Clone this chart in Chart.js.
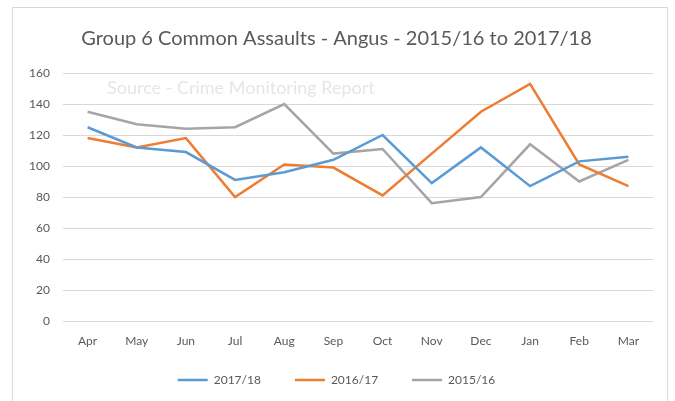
<!DOCTYPE html>
<html>
<head>
<meta charset="utf-8">
<script src="https://cdn.jsdelivr.net/npm/chart.js@4"></script>
<style>
  html, body { margin: 0; padding: 0; background: #fff; }
  #wrap { width: 675px; height: 401px; }
</style>
</head>
<body>
<div id="wrap"><canvas id="chart-assaults"></canvas></div>
<script>
const months = ['Apr', 'May', 'Jun', 'Jul', 'Aug', 'Sep', 'Oct', 'Nov', 'Dec', 'Jan', 'Feb', 'Mar'];
const year1718 = [125, 112, 109, 91, 96, 104, 120, 89, 112, 87, 103, 106];
const year1617 = [118, 112, 118, 80, 101, 99, 81, 108, 135, 153, 101, 87];
const year1516 = [135, 127, 124, 125, 140, 108, 111, 76, 80, 114, 90, 104];

const textColour = '#595959';
const fontFamily = 'Lato, "Open Sans", sans-serif';

// outer frame, the faint source note inside the plot, and a tighter legend gap
const frame = {
  id: 'frame',
  afterLayout(chart) {
    // the legend's label padding is wide for spacing; pull the row back up
    chart.legend.top -= 9;
    chart.legend.bottom -= 9;
  },
  beforeDraw(chart) {
    const ctx = chart.ctx;
    ctx.save();
    ctx.fillStyle = '#fff';
    ctx.fillRect(0, 0, chart.width, chart.height);
    ctx.strokeStyle = '#d9d9d9';
    ctx.lineWidth = 1;
    ctx.strokeRect(12.5, 7.5, 655, 400);
    ctx.restore();
  },
  afterDatasetsDraw(chart) {
    const ctx = chart.ctx;
    ctx.save();
    ctx.font = `18px ${fontFamily}`;
    ctx.fillStyle = '#e6e6e6';
    ctx.textBaseline = 'middle';
    ctx.fillText('Source - Crime Monitoring Report', 107, 88);
    ctx.restore();
  }
};

const line = (label, data, colour) => ({
  label,
  data,
  borderColor: colour,
  backgroundColor: colour,
  borderWidth: 2.5,
  pointRadius: 0,
  tension: 0,
  fill: false
});

new Chart(document.getElementById('chart-assaults'), {
  type: 'line',
  data: {
    labels: months,
    datasets: [
      line('2017/18', year1718, '#5B9BD5'),
      line('2016/17', year1617, '#ED7D31'),
      line('2015/16', year1516, '#A5A5A5')
    ]
  },
  options: {
    responsive: true,
    maintainAspectRatio: false,
    animation: false,
    layout: { padding: { left: 20, right: 22, top: 0, bottom: 4 } },
    plugins: {
      title: {
        display: true,
        text: 'Group 6 Common Assaults - Angus - 2015/16 to 2017/18',
        color: textColour,
        font: { family: fontFamily, size: 20, weight: 'normal' },
        padding: { top: 27, bottom: 22 }
      },
      legend: {
        position: 'bottom',
        maxHeight: 48,
        labels: {
          color: textColour,
          font: { family: fontFamily, size: 12 },
          usePointStyle: true,
          pointStyle: 'line',
          pointStyleWidth: 30,
          boxHeight: 12,
          padding: 34
        }
      },
      tooltip: { enabled: false }
    },
    scales: {
      x: {
        offset: true,
        afterFit(scale) { scale.height = 28; },
        grid: { display: false, drawTicks: false },
        border: { display: false },
        ticks: { color: textColour, font: { family: fontFamily, size: 12 }, padding: 13 }
      },
      y: {
        min: 0,
        max: 160,
        afterFit(scale) { scale.width = 43; },
        grid: { color: '#d9d9d9', drawTicks: false },
        border: { display: false },
        ticks: { stepSize: 20, color: textColour, font: { family: fontFamily, size: 12 }, padding: 13 }
      }
    }
  },
  plugins: [frame]
});
</script>
</body>
</html>
